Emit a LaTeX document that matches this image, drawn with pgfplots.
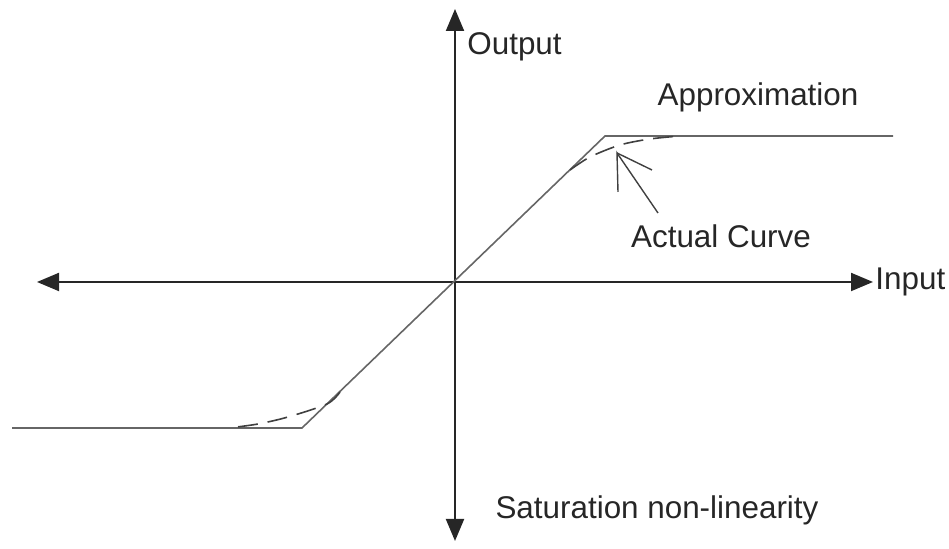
\documentclass[border=0pt]{standalone}
\usepackage{pgfplots}
\pgfplotsset{compat=1.18}
\usepackage{fontspec}
\setmainfont{Liberation Sans}
\usetikzlibrary{arrows.meta}
\begin{document}
\begin{tikzpicture}
\begin{axis}[
  x=0.5pt, y=0.5pt,
  xmin=-455, xmax=494, ymin=-267, ymax=282,
  hide axis, clip=false,
]
\coordinate (bl) at (axis cs:-455,-267);
\coordinate (tr) at (axis cs:494,282);
% axes
\draw[black!85, line width=1pt, {Triangle[length=11pt,width=9pt]}-{Triangle[length=11pt,width=9pt]}] (axis cs:-418,0) -- (axis cs:418,0);
\draw[black!85, line width=1pt, {Triangle[length=11pt,width=9pt]}-{Triangle[length=11pt,width=9pt]}] (axis cs:0,-259) -- (axis cs:0,273);
% approximation
\addplot[black!60, line width=0.8pt] coordinates {(-443,-146) (-153,-146) (150,146) (438,146)};
% actual curve
\addplot[black!75, line width=0.8pt, dash pattern=on 10pt off 5pt, smooth] coordinates {(115,112) (135,125) (165,137) (195,143) (225,146)};
\addplot[black!75, line width=0.8pt, dash pattern=on 10pt off 5pt, smooth] coordinates {(-115,-110) (-128,-122) (-167,-135) (-197,-142) (-226,-146)};
% pointer
\draw[black!75, line width=0.7pt] (axis cs:203,69) -- (axis cs:162,129) -- (axis cs:163,90);
\draw[black!75, line width=0.7pt] (axis cs:162,129) -- (axis cs:197,112);
% labels
\node[anchor=west, text=black!85, font=\fontsize{15.7}{18}\selectfont, inner sep=0pt] at (axis cs:12,235) {Output};
\node[text=black!85, font=\fontsize{15.7}{18}\selectfont, inner sep=0pt] at (axis cs:303,185) {Approximation};
\node[text=black!85, font=\fontsize{15.7}{18}\selectfont, inner sep=0pt] at (axis cs:266,46) {Actual Curve};
\node[anchor=west, text=black!85, font=\fontsize{15.7}{18}\selectfont, inner sep=0pt] at (axis cs:420,0) {Input};
\node[text=black!85, font=\fontsize{15.7}{18}\selectfont, inner sep=0pt] at (axis cs:202,-228) {Saturation non-linearity};
\end{axis}
\pgfresetboundingbox
\path (bl) rectangle (tr);
\end{tikzpicture}
\end{document}
